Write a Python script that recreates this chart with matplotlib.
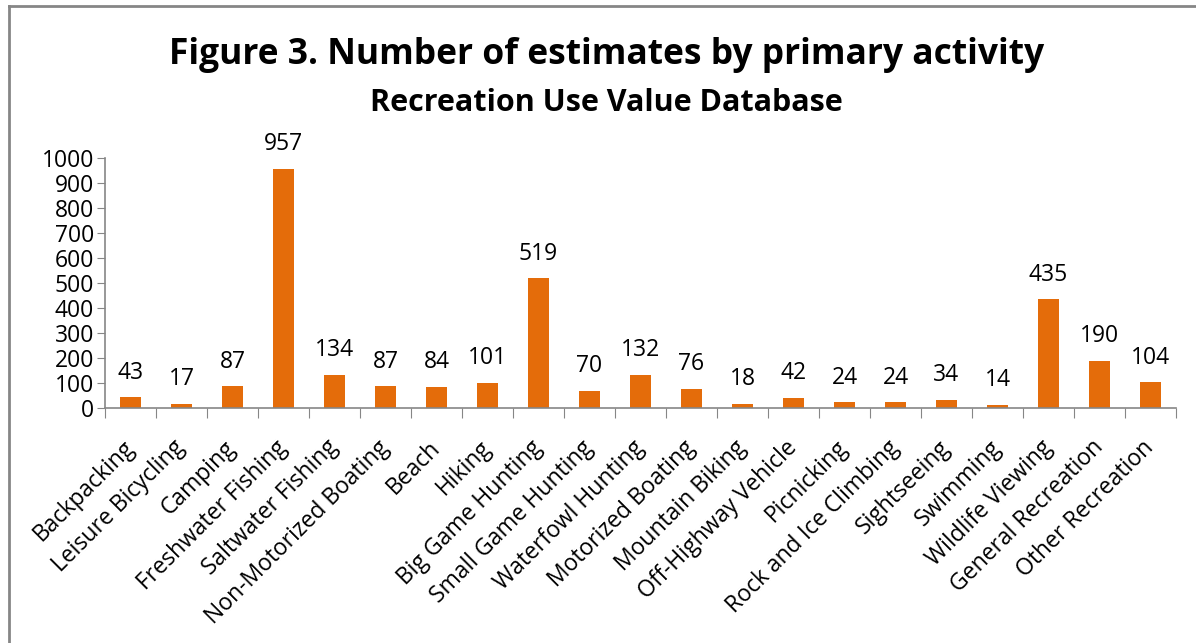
import matplotlib.pyplot as plt
from matplotlib.lines import Line2D

plt.rcParams['font.family'] = ['Open Sans', 'DejaVu Sans']

activities = ["Backpacking", "Leisure Bicycling", "Camping", "Freshwater Fishing",
              "Saltwater Fishing", "Non-Motorized Boating", "Beach", "Hiking",
              "Big Game Hunting", "Small Game Hunting", "Waterfowl Hunting",
              "Motorized Boating", "Mountain Biking", "Off-Highway Vehicle",
              "Picnicking", "Rock and Ice Climbing", "Sightseeing", "Swimming",
              "Wildlife Viewing", "General Recreation", "Other Recreation"]
estimates = [43, 17, 87, 957, 134, 87, 84, 101, 519, 70, 132, 76, 18, 42,
             24, 24, 34, 14, 435, 190, 104]
y_ticks = [0, 100, 200, 300, 400, 500, 600, 700, 800, 900, 1000]

BAR = "#E46C0A"
GREY = "#868686"
FS = 16.5

fig = plt.figure(figsize=(11.96, 6.43), dpi=100)
ax = fig.add_axes([105 / 1196, 1 - 408 / 643, 1071 / 1196, 250 / 643])

x = list(range(len(activities)))
ax.bar(x, estimates, width=0.4, color=BAR)
for xi, v in zip(x, estimates):
    ax.annotate(str(v), (xi, v), xytext=(0, 9), textcoords="offset points",
                ha="center", va="bottom", fontsize=FS)

ax.set_xlim(-0.5, len(activities) - 0.5)
ax.set_ylim(0, 1000)
ax.set_yticks(y_ticks)
ax.tick_params(axis="y", labelsize=FS, length=6, color=GREY, pad=2)
ax.set_xticks([i - 0.5 for i in range(len(activities) + 1)])
ax.set_xticklabels([])
ax.tick_params(axis="x", length=7, color=GREY)
ax.set_xticks(x, minor=True)
ax.set_xticklabels(activities, minor=True, rotation=45, ha="right", va="center",
                   rotation_mode="anchor", fontsize=FS)
ax.tick_params(axis="x", which="minor", length=0, pad=26)
for side in ["top", "right"]:
    ax.spines[side].set_visible(False)
for side in ["left", "bottom"]:
    ax.spines[side].set_color(GREY)
    ax.spines[side].set_linewidth(1.2)

fig.text(0.507, 1 - 55 / 643, "Figure 3. Number of estimates by primary activity",
         ha="center", va="center", fontsize=25.5, fontweight="bold")
fig.text(0.507, 1 - 103 / 643, "Recreation Use Value Database",
         ha="center", va="center", fontsize=22, fontweight="bold")

# chart frame (top and left edges visible)
fig.add_artist(Line2D([8.5 / 1196, 8.5 / 1196], [0, 1 - 6 / 643],
                      transform=fig.transFigure, color=GREY, lw=2))
fig.add_artist(Line2D([8.5 / 1196, 1], [1 - 6 / 643, 1 - 6 / 643],
                      transform=fig.transFigure, color=GREY, lw=2))

fig.savefig("out.png", dpi=100)
